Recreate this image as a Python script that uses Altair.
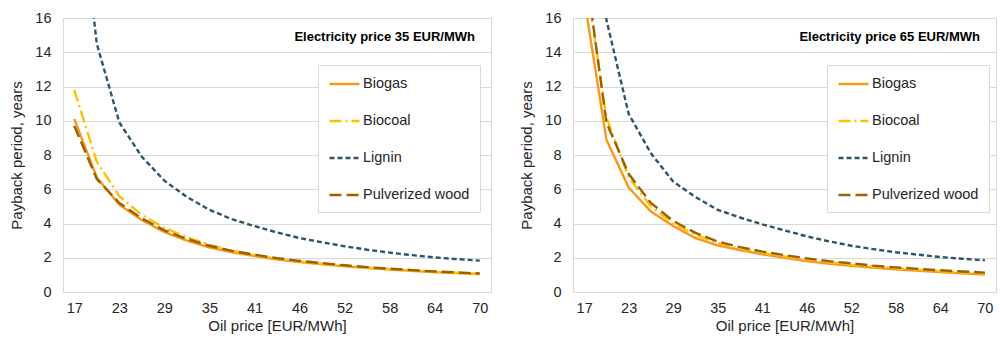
import altair as alt
import pandas as pd

oil_prices = ["17", "20", "23", "26", "29", "32", "35", "38", "41", "44",
              "46", "49", "52", "55", "58", "61", "64", "67", "70"]
tick_labels = ["17", "23", "29", "35", "41", "46", "52", "58", "64", "70"]
series_names = ["Biogas", "Biocoal", "Lignin", "Pulverized wood"]

# Electricity price 35 EUR/MWh
biogas_35 = [10.1, 6.7, 5.1, 4.2, 3.5, 3.0, 2.6, 2.32, 2.1, 1.9, 1.75, 1.62, 1.5, 1.4, 1.31, 1.23, 1.16, 1.1, 1.04]
biocoal_35 = [11.8, 7.6, 5.6, 4.5, 3.75, 3.2, 2.75, 2.42, 2.17, 1.96, 1.79, 1.65, 1.53, 1.43, 1.34, 1.26, 1.19, 1.12, 1.06]
lignin_35 = [26.0, 14.5, 9.9, 7.9, 6.5, 5.55, 4.8, 4.25, 3.85, 3.48, 3.15, 2.9, 2.67, 2.47, 2.3, 2.15, 2.02, 1.92, 1.83]
wood_35 = [9.7, 6.6, 5.2, 4.3, 3.6, 3.1, 2.7, 2.4, 2.18, 1.98, 1.82, 1.68, 1.56, 1.45, 1.36, 1.28, 1.2, 1.14, 1.08]

# Electricity price 65 EUR/MWh
biogas_65 = [17.15, 8.9, 6.1, 4.7, 3.85, 3.15, 2.72, 2.45, 2.2, 2.0, 1.8, 1.65, 1.53, 1.42, 1.32, 1.24, 1.16, 1.09, 1.02]
biocoal_65 = [19.0, 10.2, 6.7, 5.0, 4.0, 3.35, 2.85, 2.55, 2.28, 2.08, 1.9, 1.74, 1.6, 1.49, 1.39, 1.3, 1.22, 1.15, 1.07]
lignin_65 = [30.0, 15.9, 10.4, 8.1, 6.45, 5.55, 4.8, 4.35, 3.95, 3.6, 3.25, 2.96, 2.7, 2.5, 2.32, 2.18, 2.04, 1.94, 1.85]
wood_65 = [19.5, 9.9, 6.9, 5.2, 4.15, 3.45, 2.95, 2.62, 2.36, 2.15, 1.96, 1.8, 1.67, 1.54, 1.44, 1.35, 1.27, 1.2, 1.13]

colors = ["#F7981D", "#FFC000", "#2E546B", "#9A6100"]
dashes = [[1, 0], [12, 4, 2, 4], [5, 3], [12, 5]]
widths = [2.4, 2.4, 2.5, 3.0]

FONT = "Liberation Sans"


def long_df(values_by_series):
    rows = []
    for name, vals in zip(series_names, values_by_series):
        for oil, v in zip(oil_prices, vals):
            rows.append({"oil": oil, "payback": v, "series": name})
    return pd.DataFrame(rows)


def panel(df, title, width, legend_x):
    legend = alt.Legend(
        orient="none", legendX=legend_x, legendY=47, title=None,
        symbolType="M-1,0H3", symbolSize=225, symbolStrokeWidth=2.5,
        labelFontSize=14.5, labelFont=FONT, labelColor="#262626", labelOffset=17,
        padding=10, rowPadding=21, fillColor="white", strokeColor="#d9d9d9",
        direction="vertical",
    )
    return alt.Chart(df).mark_line(clip=True).encode(
        x=alt.X("oil:O", sort=oil_prices,
                scale=alt.Scale(type="point", padding=0.5),
                axis=alt.Axis(title="Oil price [EUR/MWh]", values=tick_labels,
                              labelAngle=0, grid=False, ticks=False, tickSize=0,
                              labelPadding=9, titlePadding=4)),
        y=alt.Y("payback:Q", scale=alt.Scale(domain=[0, 16], nice=False),
                axis=alt.Axis(title="Payback period, years",
                              values=list(range(0, 17, 2)), grid=True,
                              ticks=False, tickSize=0, labelPadding=12,
                              titlePadding=10)),
        color=alt.Color("series:N", sort=series_names,
                        scale=alt.Scale(domain=series_names, range=colors),
                        legend=legend),
        strokeDash=alt.StrokeDash("series:N", sort=series_names,
                                  scale=alt.Scale(domain=series_names, range=dashes),
                                  legend=legend),
        strokeWidth=alt.StrokeWidth("series:N", sort=series_names,
                                    scale=alt.Scale(domain=series_names, range=widths),
                                    legend=None),
    ).properties(
        width=width, height=274,
        title=alt.TitleParams(title, anchor="end", fontSize=13, fontWeight="bold",
                              font=FONT, color="#000000", offset=-34, dx=-16),
    )


left = panel(long_df([biogas_35, biocoal_35, lignin_35, wood_35]),
             "Electricity price 35 EUR/MWh", 428, 255)
right = panel(long_df([biogas_65, biocoal_65, lignin_65, wood_65]),
              "Electricity price 65 EUR/MWh", 423, 254)

chart = alt.hconcat(left, right, spacing=27).resolve_scale(
    color="independent", strokeDash="independent"
).resolve_legend(
    color="independent", strokeDash="independent"
).properties(
    padding={"left": 9, "top": 9, "right": 0, "bottom": 0},
    background="white",
).configure_axis(
    domainColor="#d9d9d9", gridColor="#d9d9d9", labelFont=FONT, titleFont=FONT,
    labelFontSize=14.5, titleFontSize=15, labelColor="#262626",
    titleColor="#262626", titleFontWeight="normal",
).configure_view(stroke="#d9d9d9")

chart.save("out.html", embed_options={"renderer": "svg", "actions": False})
